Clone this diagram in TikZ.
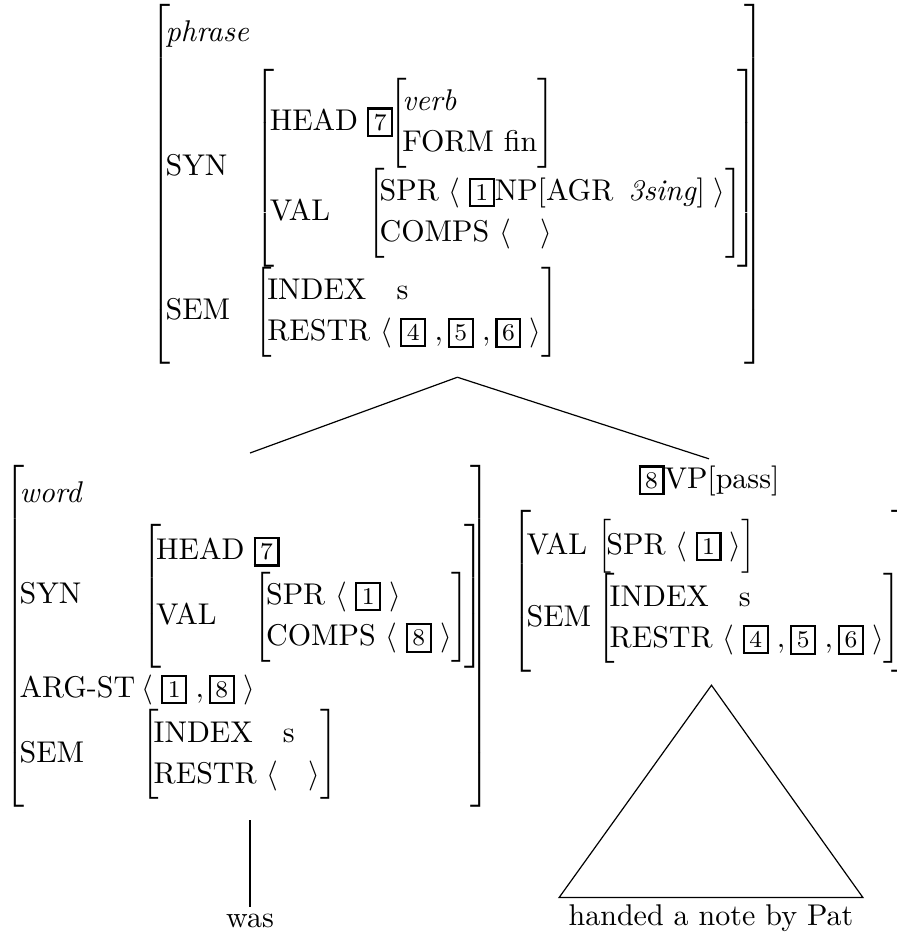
\documentclass[tikz,border=0pt]{standalone}
\usepackage{amsmath}
\usepackage{tikz}
\usetikzlibrary{positioning}

\newcommand{\tagbox}[1]{{\setlength{\fboxsep}{1.5pt}\setlength{\fboxrule}{0.7pt}\fbox{\footnotesize #1}}}
\newcommand{\attr}[1]{\text{#1}}
\renewcommand{\arraystretch}{1.15}
\delimitershortfall=-2pt
\delimiterfactor=1001

\begin{document}
\begin{tikzpicture}[x=0.3333pt, y=-0.3333pt,
    avm/.style  = {inner sep=4pt},
    leaf/.style = {inner sep=2pt},
  ]
  \useasboundingbox (0,0) rectangle (896,932);

  %% mother: the phrase
  \node[avm, anchor=north west] (phr) at (138,-8) {$\left[\!\begin{array}{@{}l@{\hspace{2pt}}l@{}}
      \textit{phrase} & \\[5pt]
      \attr{SYN} & \left[\!\begin{array}{@{}l@{\hspace{3pt}}l@{}}
          \attr{HEAD} & \tagbox{7}\mkern-5mu\left[\!\begin{array}{@{}l@{}}\textit{verb}\\ \attr{FORM fin}\end{array}\right]\\
          \attr{VAL} & \left[\!\begin{array}{@{}l@{}}
              \attr{SPR}\ \langle\;\tagbox{1}\attr{NP[AGR\hspace{5pt}\textit{3sing}]}\;\rangle\\
              \attr{COMPS}\ \langle\quad\rangle\end{array}\right]
        \end{array}\!\right]\\[5pt]
      \attr{SEM} & \left[\!\begin{array}{@{}ll@{}}
          \attr{INDEX} & \attr{s}\\
          \multicolumn{2}{@{}l@{}}{\attr{RESTR}\ \langle\;\tagbox{4}\;,\tagbox{5}\;,\tagbox{6}\;\rangle}
        \end{array}\right]
    \end{array}\mkern-8mu\right]$};

  %% head daughter: the word
  \node[avm, anchor=north west] (wrd) at (-8,453) {$\left[\!\begin{array}{@{}l@{\hspace{2pt}}l@{}}
      \textit{word} & \\[3pt]
      \attr{SYN} & \left[\!\begin{array}{@{}l@{\hspace{3pt}}l@{}}
          \attr{HEAD} & \tagbox{7}\\
          \attr{VAL} & \left[\!\begin{array}{@{}l@{}}
              \attr{SPR}\ \langle\;\tagbox{1}\;\rangle\\
              \attr{COMPS}\ \langle\;\tagbox{8}\;\rangle\end{array}\right]
        \end{array}\!\right]\\[3pt]
      \attr{ARG-ST} & \langle\;\tagbox{1}\;,\tagbox{8}\;\rangle\\
      \attr{SEM} & \left[\!\begin{array}{@{}ll@{}}
          \attr{INDEX} & \attr{s}\\
          \multicolumn{2}{@{}l@{}}{\attr{RESTR}\ \langle\quad\rangle}
        \end{array}\right]
    \end{array}\mkern-8mu\right]$};

  %% complement daughter: the passive VP
  \node[leaf, anchor=base] (vp) at (709,488) {\tagbox{8}VP[pass]};
  \node[avm, anchor=north west] (vpavm) at (499,498) {$\left[\!\begin{array}{@{}l@{\hspace{2pt}}l@{}}
      \attr{VAL} & \left[\!\begin{array}{@{}l@{}}\attr{SPR}\ \langle\;\tagbox{1}\;\rangle\end{array}\right]\\
      \attr{SEM} & \left[\!\begin{array}{@{}ll@{}}
          \attr{INDEX} & \attr{s}\\
          \multicolumn{2}{@{}l@{}}{\attr{RESTR}\ \langle\;\tagbox{4}\;,\tagbox{5}\;,\tagbox{6}\;\rangle}
        \end{array}\right]
    \end{array}\mkern-6mu\right]$};

  %% leaves
  \node[leaf, anchor=base] (was) at (250,927) {was};
  \node[leaf, inner xsep=3pt, anchor=base] (words) at (711,925) {handed a note by Pat};

  %% branches
  \draw (phr.south) -- (was.north |- wrd.north);
  \draw (phr.south) -- (vp.north);
  \draw (was.north |- wrd.south) -- (was.north);
  \draw (vpavm.south) -- (words.north west) -- (words.north east) -- cycle;

\end{tikzpicture}
\end{document}
